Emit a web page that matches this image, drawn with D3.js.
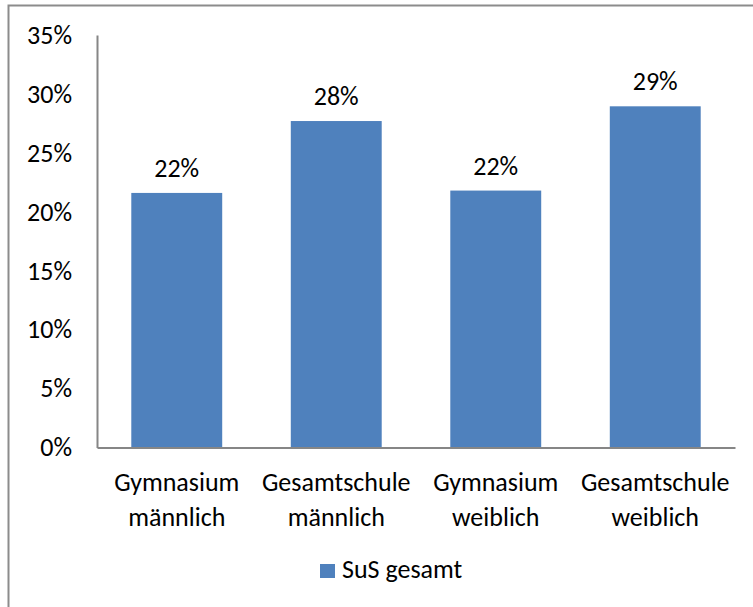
<!DOCTYPE html>
<html>
<head>
<meta charset="utf-8">
<script src="https://cdn.jsdelivr.net/npm/d3@7"></script>
<style>
  html, body { margin: 0; padding: 0; background: #fff; }
  svg { display: block; }
  text { font-family: Carlito, Calibri, Lato, sans-serif; fill: #000; }
</style>
</head>
<body>
<svg id="chart" width="753" height="607"></svg>
<script>
// Category labels (two lines each), values in percent, and axis ticks
const categories = ["Gymnasium männlich", "Gesamtschule männlich", "Gymnasium weiblich", "Gesamtschule weiblich"];
const categoryLines = [["Gymnasium", "männlich"], ["Gesamtschule", "männlich"], ["Gymnasium", "weiblich"], ["Gesamtschule", "weiblich"]];
const values = [21.6, 27.7, 21.8, 28.95];
const valueLabels = ["22%", "28%", "22%", "29%"];
const yTicks = [0, 5, 10, 15, 20, 25, 30, 35];
const seriesName = "SuS gesamt";

const svg = d3.select("#chart");
const W = 753, H = 607;
const plot = { left: 97, right: 735, top: 35, bottom: 447.5 };
const barColor = "#4f81bd";
const axisColor = "#868686";
const fontSize = 26;

// outer frame of the chart area
svg.append("rect")
  .attr("x", 8.5).attr("y", 5.5)
  .attr("width", W + 10).attr("height", H + 10)
  .attr("fill", "#fff").attr("stroke", "#8c8c8c").attr("stroke-width", 2);

const x = d3.scaleBand()
  .domain(categories)
  .range([plot.left, plot.right])
  .paddingInner(0.43)
  .paddingOuter(0.215);

const y = d3.scaleLinear()
  .domain([0, 35])
  .range([plot.bottom, plot.top]);

// bars
svg.append("g").selectAll("rect")
  .data(values)
  .join("rect")
  .attr("x", (d, i) => x(categories[i]))
  .attr("width", x.bandwidth())
  .attr("y", d => y(d))
  .attr("height", d => y(0) - y(d))
  .attr("fill", barColor);

// value labels above the bars
svg.append("g").selectAll("text")
  .data(values)
  .join("text")
  .attr("x", (d, i) => x(categories[i]) + x.bandwidth() / 2)
  .attr("y", d => y(d) - 25)
  .attr("text-anchor", "middle")
  .attr("dominant-baseline", "central")
  .attr("font-size", fontSize)
  .text((d, i) => valueLabels[i]);

// y axis
const yAxis = d3.axisLeft(y)
  .tickValues(yTicks)
  .tickFormat(d => d + "%")
  .tickSize(0)
  .tickPadding(25);
const gy = svg.append("g")
  .attr("transform", `translate(${plot.left},0)`)
  .call(yAxis);
gy.select(".domain").attr("stroke", axisColor).attr("stroke-width", 2);
gy.selectAll(".tick text")
  .attr("font-size", fontSize)
  .attr("font-family", "Carlito, Calibri, Lato, sans-serif")
  .attr("fill", "#000");

// x axis with two-line category labels
const xAxis = d3.axisBottom(x).tickSize(0).tickFormat("");
const gx = svg.append("g")
  .attr("transform", `translate(0,${plot.bottom})`)
  .call(xAxis);
gx.select(".domain").attr("stroke", axisColor).attr("stroke-width", 2);
gx.selectAll(".tick").each(function(d, i) {
  const t = d3.select(this).append("text")
    .attr("text-anchor", "middle")
    .attr("font-size", fontSize)
    .attr("font-family", "Carlito, Calibri, Lato, sans-serif")
    .attr("fill", "#000");
  categoryLines[i].forEach((line, k) => {
    t.append("tspan")
      .attr("x", 0)
      .attr("y", 34 + k * 35)
      .attr("dominant-baseline", "central")
      .text(line);
  });
});

// legend
const legend = svg.append("g");
legend.append("rect")
  .attr("x", 320).attr("y", 564)
  .attr("width", 15).attr("height", 14)
  .attr("fill", barColor);
legend.append("text")
  .attr("x", 342).attr("y", 569)
  .attr("dominant-baseline", "central")
  .attr("font-size", fontSize)
  .text(seriesName);
</script>
</body>
</html>
